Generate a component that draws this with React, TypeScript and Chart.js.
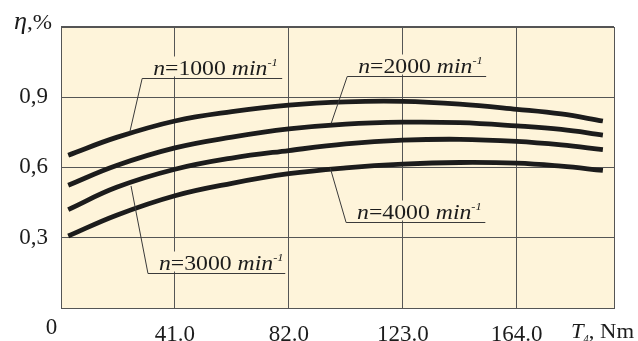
import React, { useEffect, useRef } from "react";
import { Chart, registerables } from "chart.js";

Chart.register(...registerables);

// ---- data ----
const TORQUE = [2.6, 20, 41, 61.5, 82, 102.5, 123, 143.5, 164, 180, 195];
const ETA_1000 = [0.652, 0.728, 0.798, 0.838, 0.866, 0.880, 0.882, 0.870, 0.848, 0.828, 0.798];
const ETA_2000 = [0.524, 0.608, 0.683, 0.729, 0.764, 0.785, 0.793, 0.791, 0.777, 0.762, 0.738];
const ETA_3000 = [0.420, 0.515, 0.592, 0.640, 0.672, 0.700, 0.716, 0.720, 0.711, 0.696, 0.676];
const ETA_4000 = [0.307, 0.396, 0.479, 0.532, 0.573, 0.598, 0.614, 0.621, 0.618, 0.605, 0.587];
const SPEEDS = ["1000", "2000", "3000", "4000"];
const X_TICKS = [0, 41, 82, 123, 164];
const Y_TICKS = [0, 0.3, 0.6, 0.9, 1.2];
const X_MAX = 199;
const Y_MAX = 1.2;

// label annotation layout, in data units: [underlineStartX, underlineEndX, underlineY, leaderX, leaderY]
const LABEL_LAYOUT = [
  [29.2, 79.6, 0.981, 24.8, 0.753],
  [103, 153, 0.99, 97.2, 0.787],
  [31.3, 80.7, 0.149, 25.2, 0.521],
  [102.6, 152.7, 0.368, 96.9, 0.597],
];

const BG = "#FEF4DA";
const GRID = "#555555";
const INK = "#1c1c1c";
const SERIF = "'Liberation Serif', 'Times New Roman', serif";

const bgPlugin = {
  id: "bgPlugin",
  beforeDraw(chart: any) {
    const { ctx, chartArea: a } = chart;
    ctx.save();
    ctx.fillStyle = BG;
    ctx.fillRect(a.left, a.top, a.right - a.left, a.bottom - a.top);
    ctx.restore();
  },
  afterDraw(chart: any) {
    const { ctx, chartArea: a } = chart;
    ctx.save();
    ctx.strokeStyle = GRID;
    ctx.lineWidth = 1;
    ctx.strokeRect(Math.round(a.left) + 0.5, Math.round(a.top) + 0.5, Math.round(a.right - a.left), Math.round(a.bottom - a.top));
    ctx.restore();
  },
};

function drawRich(ctx: any, parts: [string, string][], x: number, y: number, sx: number) {
  ctx.save();
  ctx.translate(x, y);
  ctx.scale(sx, 1);
  let cx = 0;
  for (const [text, font] of parts) {
    let dy = 0;
    let f = font;
    if (font.startsWith("sup:")) {
      f = font.slice(4);
      dy = -9;
    } else if (font.startsWith("sub:")) {
      f = font.slice(4);
      dy = 4;
    }
    ctx.font = f;
    ctx.fillText(text, cx, dy);
    cx += ctx.measureText(text).width;
  }
  ctx.restore();
  return cx * sx;
}

const labelPlugin = {
  id: "labelPlugin",
  afterDatasetsDraw(chart: any) {
    const { ctx } = chart;
    const xs = chart.scales.x;
    const ys = chart.scales.y;
    ctx.save();
    ctx.textBaseline = "alphabetic";
    ctx.textAlign = "left";
    SPEEDS.forEach((sp, i) => {
      const [ux0, ux1, uy, lx, ly] = LABEL_LAYOUT[i];
      const x0 = xs.getPixelForValue(ux0);
      const x1 = xs.getPixelForValue(ux1);
      const y = Math.round(ys.getPixelForValue(uy)) + 0.5;
      const px = xs.getPixelForValue(lx);
      const py = ys.getPixelForValue(ly);
      ctx.fillStyle = BG;
      ctx.fillRect(x0 + 4, y - 22, x1 - x0 - 4, 20);
      ctx.strokeStyle = "#3a3a3a";
      ctx.lineWidth = 1;
      ctx.beginPath();
      ctx.moveTo(px, py);
      ctx.lineTo(x0, y);
      ctx.lineTo(x1, y);
      ctx.stroke();
      ctx.fillStyle = INK;
      drawRich(
        ctx,
        [
          ["n", `italic 21px ${SERIF}`],
          [`=${sp} `, `21px ${SERIF}`],
          ["min", `italic 21px ${SERIF}`],
          ["-1", `sup:italic 11px ${SERIF}`],
        ],
        x0 + 11,
        y - 4,
        1.13
      );
    });
    ctx.fillStyle = INK;
    drawRich(ctx, [["η", `italic 25px ${SERIF}`], [",%", `22px ${SERIF}`]], 14, 29, 1.05);
    drawRich(
      ctx,
      [
        ["T", `italic 22px ${SERIF}`],
        ["4", `sub:italic 10px ${SERIF}`],
        [", Nm", `22px ${SERIF}`],
      ],
      571,
      338,
      1.03
    );
    ctx.font = `23px ${SERIF}`;
    ctx.textAlign = "center";
    ctx.fillText("0", 51.5, 334);
    ctx.restore();
  },
};

export default function App() {
  const ref = useRef<HTMLCanvasElement | null>(null);
  useEffect(() => {
    let chart: any = null;
    let cancelled = false;
    const build = () => {
      if (cancelled || !ref.current) return;
      const mk = (vals: number[]) => TORQUE.map((x, i) => ({ x, y: vals[i] }));
      const series = [ETA_1000, ETA_2000, ETA_3000, ETA_4000];
      chart = new Chart(ref.current, {
        type: "line",
        data: {
          datasets: series.map((s, i) => ({
            label: `n=${SPEEDS[i]}`,
            data: mk(s),
            borderColor: INK,
            borderWidth: 4.8,
            pointRadius: 0,
            fill: false,
            tension: 0.4,
            borderCapStyle: "butt" as const,
          })),
        },
        options: {
          responsive: false,
          animation: false,
          events: [],
          layout: { padding: { top: 24, right: 24, left: 0, bottom: 0 } },
          plugins: { legend: { display: false }, tooltip: { enabled: false }, title: { display: false } },
          scales: {
            x: {
              type: "linear",
              min: 0,
              max: X_MAX,
              afterBuildTicks: (s: any) => {
                s.ticks = X_TICKS.map((v) => ({ value: v }));
              },
              afterFit: (s: any) => {
                s.height = 33;
              },
              grid: { color: GRID, lineWidth: 1, drawTicks: false },
              border: { display: true, color: GRID },
              ticks: {
                padding: 13,
                color: INK,
                maxRotation: 0,
                font: { family: SERIF, size: 23 },
                callback: (v: any) => (v === 0 ? "" : Number(v).toFixed(1)),
              },
            },
            y: {
              type: "linear",
              min: 0,
              max: Y_MAX,
              afterBuildTicks: (s: any) => {
                s.ticks = Y_TICKS.map((v) => ({ value: v }));
              },
              afterFit: (s: any) => {
                s.width = 61;
              },
              grid: { color: GRID, lineWidth: 1, drawTicks: false },
              border: { display: true, color: GRID },
              ticks: {
                padding: 13,
                color: INK,
                font: { family: SERIF, size: 23 },
                callback: (v: any) => (v === 0 || v === Y_MAX ? "" : Number(v).toFixed(1).replace(".", ",")),
              },
            },
          },
        },
        plugins: [bgPlugin, labelPlugin],
      });
    };
    const fonts: any = (document as any).fonts;
    if (fonts && fonts.load) {
      Promise.all([
        fonts.load(`23px "Liberation Serif"`),
        fonts.load(`italic 21px "Liberation Serif"`),
      ])
        .catch(() => null)
        .then(build);
    } else {
      build();
    }
    return () => {
      cancelled = true;
      if (chart) chart.destroy();
    };
  }, []);
  return (
    <div style={{ position: "absolute", left: 0, top: 0, width: 638, height: 341, background: "#fff" }}>
      <canvas ref={ref} width={638} height={341} style={{ display: "block" }} />
    </div>
  );
}
